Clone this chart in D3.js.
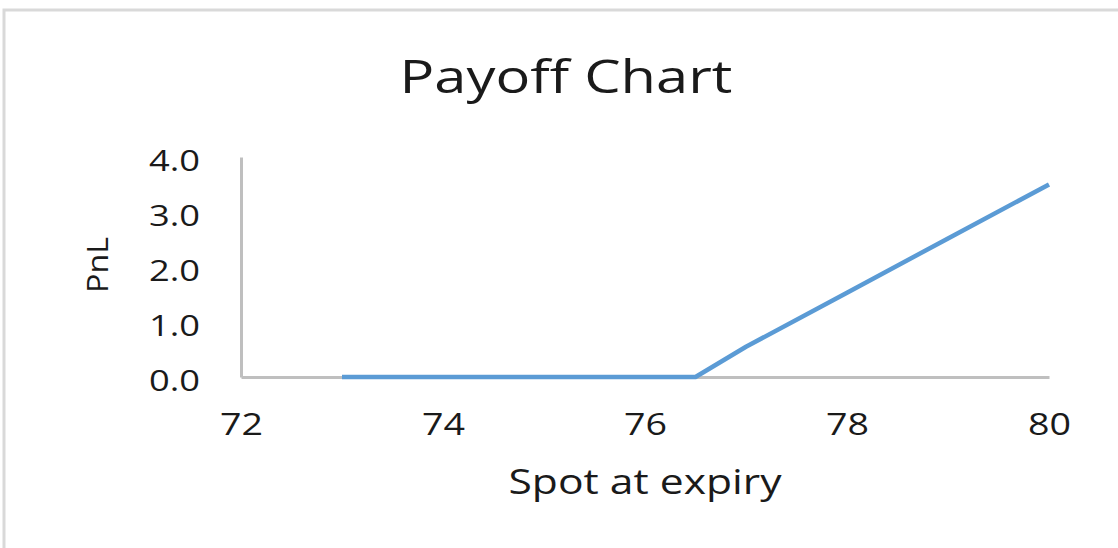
<!DOCTYPE html>
<html>
<head>
<meta charset="utf-8">
<script src="https://cdn.jsdelivr.net/npm/d3@7"></script>
<style>
  body { margin: 0; background: #fff; }
  text { font-family: "Open Sans", sans-serif; fill: #1a1a1a; }
</style>
</head>
<body>
<div id="chart"></div>
<script>
// data
var spot = [73, 74, 75, 76, 76.5, 77, 78, 79, 80]
var pnl  = [0, 0, 0, 0, 0, 0.55, 1.53, 2.52, 3.5]
var xTicks = [72, 74, 76, 78, 80]
var yTicks = [0, 1, 2, 3, 4]

var W = 1118, H = 548
var plot = {left: 241, right: 1049, top: 157, bottom: 377}

var svg = d3.select("#chart").append("svg")
  .attr("width", W)
  .attr("height", H)

// chart frame (only top/left edges are inside the picture)
svg.append("rect")
  .attr("x", 4).attr("y", 10)
  .attr("width", W + 20).attr("height", H + 20)
  .attr("fill", "none")
  .attr("stroke", "#d9d9d9")
  .attr("stroke-width", 3)

var x = d3.scaleLinear().domain([72, 80]).range([plot.left, plot.right])
var y = d3.scaleLinear().domain([0, 4]).range([plot.bottom, plot.top])

// X axis
var gx = svg.append("g")
  .attr("transform", "translate(0," + plot.bottom + ")")
  .call(d3.axisBottom(x).tickValues(xTicks).tickSize(0).tickSizeOuter(0).tickFormat(d3.format("d")))
gx.select(".domain").attr("stroke", "#bfbfbf").attr("stroke-width", 3)
gx.selectAll("text")
  .attr("y", 58).attr("dy", null)
  .attr("font-size", 31)
  .attr("textLength", 43).attr("lengthAdjust", "spacingAndGlyphs")
  .style("font-family", "Open Sans").attr("fill", "#1a1a1a")

// Y axis
var gy = svg.append("g")
  .attr("transform", "translate(" + plot.left + ",0)")
  .call(d3.axisLeft(y).tickValues(yTicks).tickSize(0).tickSizeOuter(0).tickFormat(d3.format(".1f")))
gy.select(".domain").attr("stroke", "#bfbfbf").attr("stroke-width", 3)
gy.selectAll("text")
  .attr("x", -41).attr("dy", "0.45em")
  .attr("font-size", 30)
  .attr("textLength", 51).attr("lengthAdjust", "spacingAndGlyphs")
  .style("font-family", "Open Sans").attr("fill", "#1a1a1a")

// payoff line
var line = d3.line()
  .x(function(d, i) { return x(spot[i]); })
  .y(function(d) { return y(d); })

svg.append("path")
  .datum(pnl)
  .attr("d", line)
  .attr("fill", "none")
  .attr("stroke", "#5b9bd5")
  .attr("stroke-width", 4.5)
  .attr("stroke-linejoin", "round")

// title and axis titles
svg.append("text")
  .attr("x", 566).attr("y", 93)
  .attr("text-anchor", "middle")
  .attr("font-size", 45)
  .attr("textLength", 333).attr("lengthAdjust", "spacingAndGlyphs")
  .text("Payoff Chart")

svg.append("text")
  .attr("x", 645).attr("y", 494)
  .attr("text-anchor", "middle")
  .attr("font-size", 34)
  .attr("textLength", 273).attr("lengthAdjust", "spacingAndGlyphs")
  .text("Spot at expiry")

svg.append("text")
  .attr("transform", "translate(108,265) rotate(-90)")
  .attr("text-anchor", "middle")
  .attr("font-size", 30)
  .attr("textLength", 56).attr("lengthAdjust", "spacingAndGlyphs")
  .text("PnL")
</script>
</body>
</html>
